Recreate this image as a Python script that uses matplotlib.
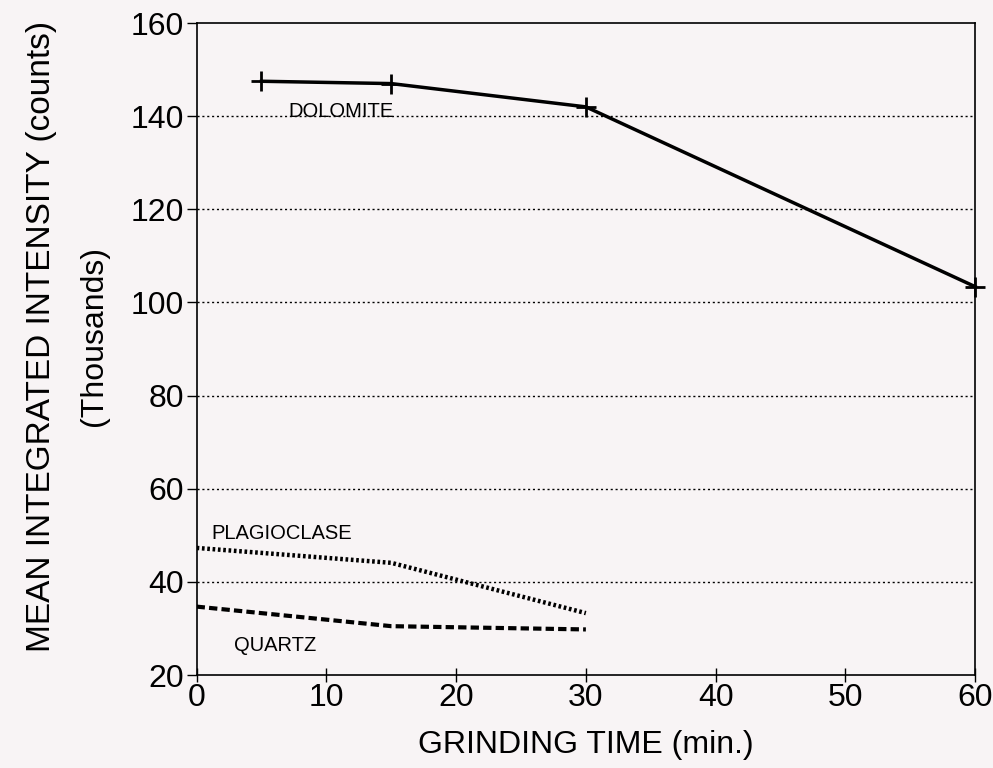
from matplotlib import pyplot as plt

plt.rcParams['font.family'] = ['Liberation Sans', 'DejaVu Sans']

# Données (milliers de coups)
temps_dolomite = [5, 15, 30, 60]
dolomite = [147.5, 147.0, 142.0, 103.4]

temps_plagio = [0, 15, 30]
plagioclase = [47.3, 44.1, 33.3]

temps_quartz = [0, 15, 30]
quartz = [34.7, 30.5, 29.8]

ticks_x = [0, 10, 20, 30, 40, 50, 60]
ticks_y = [20, 40, 60, 80, 100, 120, 140, 160]
fond = '#f8f4f5'

fig = plt.figure(figsize=(9.93, 7.68), dpi=100, facecolor=fond)
ax = fig.add_axes([0.198, 0.121, 0.784, 0.849], facecolor=fond)

for niveau in ticks_y[1:-1]:
    ax.axhline(niveau, color='black', lw=1.0, ls=(0, (1.5, 2)), zorder=1)

ax.plot(temps_dolomite, dolomite, color='black', lw=2.5, marker='+',
        markersize=15, mew=2, zorder=3, clip_on=False)
ax.plot(temps_plagio, plagioclase, color='black', lw=3.2, ls=(0, (0.6, 0.6)),
        zorder=3)
ax.plot(temps_quartz, quartz, color='black', lw=3, ls=(0, (2, 1)), zorder=3)

ax.text(7.1, 141, 'DOLOMITE', fontsize=14.5, va='center', ha='left')
ax.text(1.1, 50.5, 'PLAGIOCLASE', fontsize=14.5, va='center', ha='left')
ax.text(2.9, 26.3, 'QUARTZ', fontsize=14.5, va='center', ha='left')

ax.set_xlim(0, 60)
ax.set_ylim(20, 160)
ax.set_xticks(ticks_x)
ax.set_yticks(ticks_y)
ax.tick_params(axis='x', direction='inout', length=10, width=1, labelsize=23, pad=1)
ax.tick_params(axis='y', direction='out', length=7, width=1, labelsize=23, pad=2)
for s in ax.spines.values():
    s.set_linewidth(1.2)

ax.set_xlabel('GRINDING TIME (min.)', fontsize=23, labelpad=12)
fig.text(0.042, 0.562, 'MEAN INTEGRATED INTENSITY (counts)', rotation=90,
         fontsize=24, ha='center', va='center')
fig.text(0.095, 0.562, '(Thousands)', rotation=90, fontsize=23,
         ha='center', va='center')

fig.savefig('out.png', dpi=100, facecolor=fond)
